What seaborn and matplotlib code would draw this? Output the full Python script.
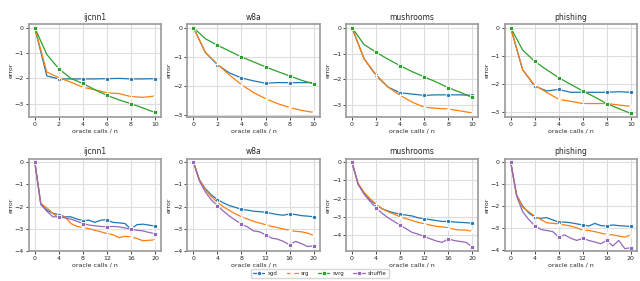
import numpy as np
import pandas as pd
import matplotlib
matplotlib.use("Agg")
import matplotlib.pyplot as plt
import seaborn as sns

# datasets y ejes
datasets = ["ijcnn1", "w8a", "mushrooms", "phishing"]
x_top = list(range(11))
x_bot = list(range(21))

# fila superior: sgd, srg, svrg
top_sgd = {
    "ijcnn1": [0, -1.9, -2.02, -2.02, -2.02, -2.02, -2.01, -2.0, -2.02, -2.02, -2.01],
    "w8a": [0, -0.85, -1.27, -1.55, -1.72, -1.82, -1.9, -1.88, -1.88, -1.88, -1.88],
    "mushrooms": [0, -1.2, -1.85, -2.3, -2.52, -2.57, -2.62, -2.6, -2.6, -2.6, -2.62],
    "phishing": [0, -1.5, -2.08, -2.25, -2.2, -2.3, -2.3, -2.3, -2.3, -2.28, -2.3],
}
top_srg = {
    "ijcnn1": [0, -1.75, -1.97, -2.15, -2.35, -2.45, -2.57, -2.6, -2.72, -2.75, -2.7],
    "w8a": [0, -0.85, -1.25, -1.62, -1.95, -2.22, -2.43, -2.6, -2.73, -2.83, -2.9],
    "mushrooms": [0, -1.2, -1.82, -2.3, -2.62, -2.88, -3.08, -3.12, -3.15, -3.22, -3.3],
    "phishing": [0, -1.5, -2.05, -2.3, -2.55, -2.62, -2.7, -2.7, -2.7, -2.75, -2.8],
}
top_svrg = {
    "ijcnn1": [0, -1.05, -1.62, -2.0, -2.2, -2.45, -2.67, -2.85, -3.0, -3.17, -3.35],
    "w8a": [0, -0.38, -0.6, -0.8, -1.0, -1.17, -1.34, -1.5, -1.65, -1.8, -1.92],
    "mushrooms": [0, -0.65, -0.95, -1.22, -1.47, -1.7, -1.9, -2.1, -2.32, -2.5, -2.7],
    "phishing": [0, -0.8, -1.2, -1.5, -1.78, -2.02, -2.25, -2.47, -2.7, -2.88, -3.05],
}

# fila inferior: sgd, srg, shuffle
bot_sgd = {
    "ijcnn1": [0, -1.9, -2.15, -2.3, -2.35, -2.45, -2.45, -2.55, -2.62, -2.6, -2.7,
               -2.6, -2.58, -2.7, -2.72, -2.75, -3.0, -2.8, -2.78, -2.82, -2.87],
    "w8a": [0, -0.8, -1.2, -1.48, -1.68, -1.83, -1.95, -2.03, -2.12, -2.15, -2.2,
            -2.22, -2.25, -2.3, -2.35, -2.38, -2.32, -2.35, -2.4, -2.42, -2.45],
    "mushrooms": [0, -1.2, -1.7, -2.05, -2.35, -2.55, -2.68, -2.78, -2.85, -2.9, -2.95,
                  -3.05, -3.1, -3.15, -3.2, -3.25, -3.25, -3.28, -3.3, -3.32, -3.35],
    "phishing": [0, -1.5, -2.0, -2.3, -2.5, -2.55, -2.52, -2.62, -2.72, -2.72, -2.75,
                 -2.8, -2.85, -2.9, -2.78, -2.88, -2.9, -2.85, -2.88, -2.9, -2.92],
}
bot_srg = {
    "ijcnn1": [0, -1.85, -2.05, -2.3, -2.5, -2.45, -2.75, -2.88, -2.92, -2.98, -3.05,
               -3.12, -3.2, -3.25, -3.38, -3.32, -3.35, -3.42, -3.52, -3.5, -3.48],
    "w8a": [0, -0.8, -1.25, -1.55, -1.8, -2.0, -2.17, -2.32, -2.45, -2.55, -2.65,
            -2.73, -2.8, -2.88, -2.93, -3.0, -3.05, -3.1, -3.12, -3.18, -3.28],
    "mushrooms": [0, -1.15, -1.65, -2.0, -2.3, -2.55, -2.72, -2.85, -3.0, -3.1, -3.2,
                  -3.3, -3.38, -3.45, -3.52, -3.55, -3.6, -3.68, -3.72, -3.72, -3.8],
    "phishing": [0, -1.5, -2.05, -2.25, -2.45, -2.6, -2.75, -2.78, -2.8, -2.85, -2.9,
                 -2.98, -3.1, -3.1, -3.15, -3.22, -3.28, -3.3, -3.35, -3.4, -3.3],
}
bot_shuffle = {
    "ijcnn1": [0, -1.9, -2.2, -2.45, -2.45, -2.5, -2.55, -2.65, -2.75, -2.82, -2.85,
               -2.88, -2.9, -2.88, -2.9, -2.95, -3.0, -3.05, -3.08, -3.15, -3.2],
    "w8a": [0, -0.85, -1.35, -1.7, -1.95, -2.2, -2.42, -2.6, -2.78, -2.9, -3.08,
            -3.12, -3.25, -3.4, -3.45, -3.55, -3.7, -3.55, -3.65, -3.78, -3.75],
    "mushrooms": [0, -1.2, -1.75, -2.15, -2.5, -2.8, -3.05, -3.25, -3.45, -3.65, -3.85,
                  -3.95, -4.07, -4.2, -4.32, -4.4, -4.2, -4.3, -4.35, -4.4, -4.65],
    "phishing": [0, -1.55, -2.25, -2.6, -2.88, -3.05, -3.1, -3.15, -3.4, -3.3, -3.45,
                 -3.55, -3.45, -3.55, -3.62, -3.7, -3.55, -3.8, -3.55, -3.92, -3.88],
}

pal = sns.color_palette("tab10")
estilos = {
    "sgd": dict(color=pal[0], marker="o"),
    "srg": dict(color=pal[1], marker="+"),
    "svrg": dict(color=pal[2], marker="s"),
    "shuffle": dict(color=pal[4], marker="s"),
}

sns.set_style("whitegrid", {"axes.edgecolor": "#999999", "grid.color": "#dddddd",
                            "xtick.bottom": True, "ytick.left": True})
plt.rcParams.update({"font.size": 4.5, "axes.linewidth": 1.2,
                     "xtick.major.size": 2, "ytick.major.size": 2,
                     "xtick.major.width": 0.6, "ytick.major.width": 0.6,
                     "xtick.major.pad": 1.5, "ytick.major.pad": 1.5})

fig, axes = plt.subplots(2, 4, figsize=(6.4, 2.81), dpi=100)

def dibujar(ax, x, series, paso):
    for nombre, ys in series:
        st = estilos[nombre]
        sns.lineplot(x=x, y=ys, ax=ax, color=st["color"], marker=st["marker"],
                     markersize=3, markeredgewidth=0.6 if st["marker"] != "+" else 0.8,
                     markevery=paso, linewidth=0.9, label=nombre, legend=False)

for i, d in enumerate(datasets):
    ax = axes[0, i]
    dibujar(ax, x_top, [("sgd", top_sgd[d]), ("srg", top_srg[d]), ("svrg", top_svrg[d])], 2)
    ax.set_xticks(range(0, 11, 2))
    ax.set_title(d, fontsize=5.5, pad=3)
    ax.set_xlabel("oracle calls / n", labelpad=1)
    ax.set_ylabel("error", labelpad=1)

    ax = axes[1, i]
    dibujar(ax, x_bot, [("sgd", bot_sgd[d]), ("srg", bot_srg[d]), ("shuffle", bot_shuffle[d])], 4)
    ax.set_xticks(range(0, 21, 4))
    ax.set_title(d, fontsize=5.5, pad=3)
    ax.set_xlabel("oracle calls / n", labelpad=1)
    ax.set_ylabel("error", labelpad=1)

for ax in axes.flat:
    ax.yaxis.set_major_locator(matplotlib.ticker.MultipleLocator(1))

axes[0, 0].set_ylim(-3.52, 0.16)
axes[0, 1].set_ylim(-3.05, 0.13)
axes[0, 2].set_ylim(-3.45, 0.15)
axes[0, 3].set_ylim(-3.17, 0.13)
axes[1, 0].set_ylim(-4.0, 0.15)
axes[1, 1].set_ylim(-4.0, 0.15)
axes[1, 2].set_ylim(-4.9, 0.2)
axes[1, 3].set_ylim(-4.05, 0.15)

# leyenda común
handles, labels = [], []
for ax in [axes[0, 0], axes[1, 0]]:
    for h, l in zip(*ax.get_legend_handles_labels()):
        if l not in labels:
            handles.append(h)
            labels.append(l)
fig.legend(handles, labels, loc="lower center", ncol=4, fontsize=4,
           bbox_to_anchor=(0.5, 0.0), frameon=True, handlelength=2.0,
           columnspacing=1.6, handletextpad=0.6, borderpad=0.4)

plt.subplots_adjust(left=0.045, right=0.995, top=0.915, bottom=0.105, wspace=0.2, hspace=0.45)
plt.savefig("out.png", dpi=100)
